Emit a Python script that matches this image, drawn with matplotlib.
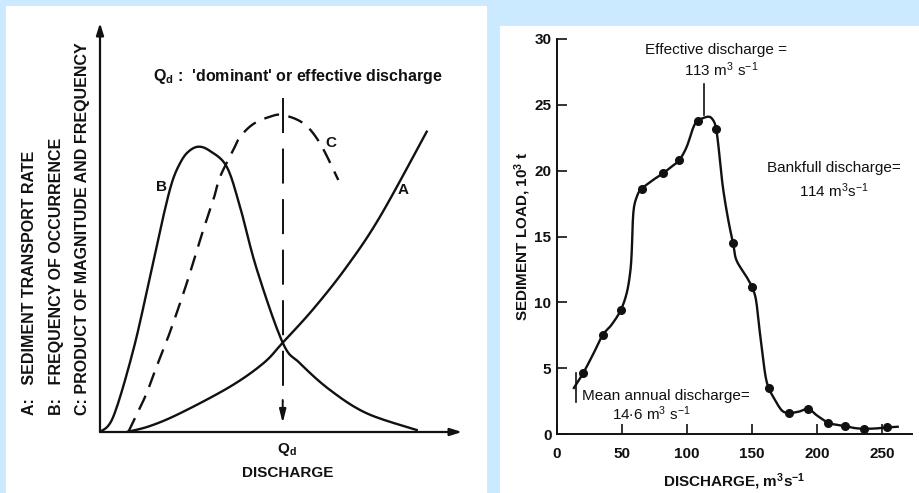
import numpy as np
import matplotlib
matplotlib.use("Agg")
import matplotlib.pyplot as plt
from matplotlib.patches import Rectangle

plt.rcParams['font.family'] = ['Liberation Sans', 'DejaVu Sans']
plt.rcParams['mathtext.default'] = 'regular'

BG = '#cceaff'
INK = '#111111'

# ---- left schematic: curves in panel units (origin at axis corner) ----
curve_a_x = [26.7, 50.0, 80.0, 130.0, 163.3, 182.7, 213.3, 246.7, 280.0, 326.7]
curve_a_y = [0.0, 6.0, 18.7, 45.3, 68.7, 89.3, 123.0, 165.3, 215.3, 300.3]

curve_b_x = [0.0, 13.3, 33.3, 50.0, 62.0, 71.7, 80.0, 88.0, 98.3, 110.0, 126.7, 140.0,
             156.7, 182.7, 200.0, 230.0, 266.7, 316.7]
curve_b_y = [0.0, 15.3, 82.0, 155.3, 210.0, 248.7, 268.7, 280.0, 285.3, 281.0, 265.3,
             225.3, 163.0, 89.3, 68.7, 42.0, 18.7, 2.0]

curve_c_x = [28.3, 45.0, 56.7, 70.0, 86.7, 100.0, 113.3, 120.0, 133.3, 140.0, 153.3,
             170.0, 182.7, 203.3, 220.0, 238.3]
curve_c_y = [0.0, 35.0, 65.7, 100.0, 148.7, 192.0, 232.0, 255.0, 282.0, 295.0, 308.0,
             315.3, 317.0, 308.7, 288.7, 252.0]

q_dominant = 182.7

# ---- right panel: sediment load vs discharge ----
discharge = [20, 35, 49, 65, 81.5, 94, 108.5, 122.3, 135.4, 149.7, 162.8,
             178.5, 193.3, 208.5, 221.8, 236.4, 254]
sediment_load = [4.6, 7.5, 9.4, 18.6, 19.8, 20.8, 23.8, 23.2, 14.5, 11.2, 3.5,
                 1.6, 1.9, 0.86, 0.6, 0.4, 0.5]

# hand-drawn trend line knots
trend_q = [13, 20, 28, 35, 42, 49, 53.6, 56.2, 57.4, 58.7, 61.3, 64.9, 74, 81.5, 88,
           94, 99.7, 104.9, 108.5, 116.4, 120.3, 122.3, 124, 127.5, 131.8, 135.4, 138,
           146, 149.7, 153, 156, 160, 162.8, 166.4, 172.8, 178.5, 186, 193.3, 200,
           208.5, 215, 221.8, 229, 236.4, 245, 254, 262]
trend_load = [3.5, 4.6, 6.1, 7.5, 8.3, 9.4, 10.7, 12.2, 13.7, 16.8, 18.0, 18.6, 19.3,
              19.8, 20.3, 20.8, 21.8, 23.3, 23.8, 24.1, 23.8, 23.2, 22.0, 18.8, 16.2,
              14.5, 13.2, 11.9, 11.2, 10.2, 7.7, 4.6, 3.5, 2.8, 1.8, 1.6, 1.7, 1.9,
              1.4, 0.86, 0.7, 0.6, 0.45, 0.4, 0.42, 0.5, 0.55]

mean_annual_q = 14.6
effective_q = 113
bankfull_q = 114


def smooth(xs, ys, n=12):
    # Catmull-Rom spline through the knots
    p = np.column_stack([xs, ys]).astype(float)
    p = np.vstack([p[0], p, p[-1]])
    t = np.linspace(0, 1, n, endpoint=False)[:, None]
    out = []
    for i in range(1, len(p) - 2):
        p0, p1, p2, p3 = p[i - 1], p[i], p[i + 1], p[i + 2]
        seg = 0.5 * ((2 * p1) + (-p0 + p2) * t + (2 * p0 - 5 * p1 + 4 * p2 - p3) * t ** 2
                     + (-p0 + 3 * p1 - 3 * p2 + p3) * t ** 3)
        out.append(seg)
    out.append(p[-2][None, :])
    out = np.vstack(out)
    return out[:, 0], out[:, 1]


W, H = 920, 493
fig = plt.figure(figsize=(W / 100, H / 100), dpi=100)
fig.patch.set_facecolor(BG)


def fx(px):
    return px / W


def fy(py):
    return 1 - py / H


# white panels
fig.patches.append(Rectangle((fx(6), 0), fx(487) - fx(6), fy(6), transform=fig.transFigure,
                             facecolor='white', edgecolor='none', zorder=-5))
fig.patches.append(Rectangle((fx(500), 0), fx(920) - fx(500), fy(26), transform=fig.transFigure,
                             facecolor='white', edgecolor='none', zorder=-5))

# ---------------- left panel ----------------
ax1 = fig.add_axes([fx(100), fy(432), fx(462) - fx(100), fy(23) - fy(432)])
ax1.set_xlim(0, 362)
ax1.set_ylim(0, 409)
ax1.axis('off')
ax1.patch.set_alpha(0)

arrow_kw = dict(arrowstyle='-|>,head_length=0.7,head_width=0.22', color=INK, lw=1.6,
                shrinkA=0, shrinkB=0)
ax1.annotate('', xy=(0, 409), xytext=(0, 0), arrowprops=arrow_kw, annotation_clip=False)
ax1.annotate('', xy=(362, 0), xytext=(0, 0), arrowprops=arrow_kw, annotation_clip=False)

xa, ya = smooth(curve_a_x, curve_a_y)
ax1.plot(xa, ya, color=INK, lw=1.7)
xb, yb = smooth(curve_b_x, curve_b_y)
ax1.plot(xb, yb, color=INK, lw=1.7)
xc, yc = smooth(curve_c_x, curve_c_y)
ax1.plot(xc, yc, color=INK, lw=1.7, dashes=(6.5, 4))

ax1.plot([q_dominant, q_dominant], [334, 30], color=INK, lw=1.4, dashes=(18, 8))
ax1.annotate('', xy=(q_dominant, 9), xytext=(q_dominant, 32),
             arrowprops=dict(arrowstyle='-|>,head_length=0.8,head_width=0.2', color=INK,
                             lw=1.4, shrinkA=0, shrinkB=0))

lab = dict(fontsize=11, fontweight='bold', color=INK, ha='center', va='center')
ax1.text(62, 245, 'B', **lab)
ax1.text(303, 242, 'A', **lab)
ax1.text(231, 289, 'C', **lab)
ax1.text(q_dominant + 4, -18, r'Q$_{d}$', **lab)
ax1.text(188, -41, 'DISCHARGE', **lab)
ax1.text(53, 355, r"Q$_{d}$ :  'dominant' or effective discharge", fontsize=11.5,
         fontweight='bold', color=INK, ha='left', va='center')

for px, s in [(30, 'A:   SEDIMENT TRANSPORT RATE'),
              (57, 'B:   FREQUENCY OF OCCURRENCE'),
              (83, 'C: PRODUCT OF MAGNITUDE AND FREQUENCY')]:
    fig.text(fx(px), fy(415), s, rotation=90, fontsize=11.5, fontweight='bold', color=INK,
             ha='center', va='bottom')

# ---------------- right panel ----------------
ax2 = fig.add_axes([fx(557), fy(434), fx(912) - fx(557), fy(39) - fy(434)])
ax2.patch.set_alpha(0)
ax2.set_xlim(0, 273)
ax2.set_ylim(0, 30)
for side in ('top', 'right'):
    ax2.spines[side].set_visible(False)
for side in ('left', 'bottom'):
    ax2.spines[side].set_linewidth(1.4)
    ax2.spines[side].set_color(INK)
ax2.set_xticks([0, 50, 100, 150, 200, 250])
ax2.set_yticks([0, 5, 10, 15, 20, 25, 30])
ax2.tick_params(axis='both', direction='in', length=7, width=1.2, colors=INK,
                labelsize=11)
ax2.tick_params(axis='x', pad=9)
ax2.tick_params(axis='y', pad=4)
for t in ax2.get_xticklabels() + ax2.get_yticklabels():
    t.set_fontweight('bold')

tq, tl = smooth(trend_q, trend_load, n=8)
ax2.plot(tq, tl, color=INK, lw=1.7, clip_on=False)
ax2.plot(discharge, sediment_load, 'o', color=INK, ms=5.5, clip_on=False)

ax2.plot([mean_annual_q, mean_annual_q], [2.4, 4.6], color=INK, lw=1.2)
ax2.plot([effective_q, effective_q], [24.2, 26.6], color=INK, lw=1.2)

note = dict(fontsize=11, color=INK, ha='center', va='center')
ax2.text(122, 29.2, 'Effective discharge =', **note)
ax2.text(126, 27.7, r'%d m$^{3}$ s$^{-1}$' % effective_q, **note)
ax2.text(213, 20.2, 'Bankfull discharge=', **note)
ax2.text(213, 18.5, r'%d m$^{3}$s$^{-1}$' % bankfull_q, **note)
ax2.text(19, 2.9, 'Mean annual discharge=', fontsize=11, color=INK, ha='left', va='center')
ax2.text(42, 1.55, r'14$\cdot$6 m$^{3}$ s$^{-1}$', fontsize=11, color=INK, ha='left',
         va='center')

ax2.set_xlabel(r'DISCHARGE, m$^{3}$s$^{-1}$', fontsize=11, fontweight='bold', color=INK,
               labelpad=8)
ax2.set_ylabel(r'SEDIMENT LOAD, 10$^{3}$ t', fontsize=11, fontweight='bold', color=INK,
               labelpad=1)

fig.savefig('out.png', dpi=100, facecolor=BG)
